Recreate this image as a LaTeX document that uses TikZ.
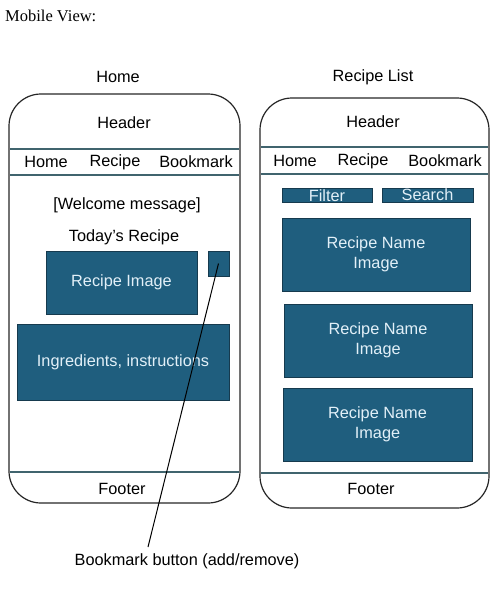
\documentclass[tikz,border=0pt]{standalone}
\usepackage{fontspec}
\setmainfont{Liberation Sans}
\newfontfamily\headfont{Liberation Serif}
\usetikzlibrary{positioning}
\definecolor{tealbox}{RGB}{31,94,126}
\definecolor{tealedge}{RGB}{22,58,78}
\definecolor{boxtext}{RGB}{226,240,248}
\definecolor{rule}{RGB}{64,100,110}

\begin{document}
\begin{tikzpicture}[
    x=1pt, y=-1pt,
    every node/.style={font=\fontsize{16.3}{20.5}\selectfont, inner sep=0pt},
    phone/.style={draw=black!85, line width=1.2pt, rounded corners=32pt},
    divider/.style={draw=rule, line width=1.4pt},
    tile/.style={draw=tealedge, line width=1pt, fill=tealbox, text=boxtext, align=center}
]
\useasboundingbox (0,0) rectangle (500,600);
\node[anchor=west, font=\headfont\fontsize{16.5}{18}\selectfont] (title) at (5,16) {Mobile View:};

% home screen
\node (homettl) at (118,77) {Home};
\draw[phone] (9,94) rectangle (240,503);
\draw[divider] (10,149) -- (239,149);
\draw[divider] (10,175) -- (239,175);
\draw[divider] (10,472) -- (239,472);
\node (hhead) at (124,123) {Header};
\node (hnav1) at (46,162) {Home};
\node (hnav2) at (115,162) {Recipe};
\node (hnav3) at (196,162) {Bookmark};
\node (welcome) at (127,205) {[Welcome message]};
\node (today) at (124,237) {Today’s Recipe};
\node[tile, minimum width=151pt, minimum height=63pt] (img) at (121.5,282.5) {Recipe Image};
\node[tile, minimum width=21pt, minimum height=25pt] (btn) at (218.5,263.5) {};
\node[tile, minimum width=212pt, minimum height=76pt] (ingr) at (123,362) {Ingredients, instructions};
\node (hfoot) at (122,489) {Footer};

% recipe list screen
\node (listttl) at (373,77) {Recipe List};
\draw[phone] (260,98) rectangle (489,508);
\draw[divider] (261,147) -- (488,147);
\draw[divider] (261,174) -- (488,174);
\draw[divider] (261,473) -- (488,473);
\node (lhead) at (373,122) {Header};
\node (lnav1) at (295,161) {Home};
\node (lnav2) at (363,161) {Recipe};
\node (lnav3) at (445,161) {Bookmark};
\node[tile, minimum width=90pt, minimum height=14pt] (filter) at (327,195.5) {Filter};
\node[tile, minimum width=91pt, minimum height=14pt] (search) at (427.5,195) {Search};
\node[tile, minimum width=188pt, minimum height=73pt] (card1) at (376,254.5) {Recipe Name\\Image};
\node[tile, minimum width=188pt, minimum height=73pt] (card2) at (378,340.5) {Recipe Name\\Image};
\node[tile, minimum width=189pt, minimum height=73pt] (card3) at (377.5,424.5) {Recipe Name\\Image};
\node (lfoot) at (371,489) {Footer};

% callout
\node (note) at (187,561) {Bookmark button (add/remove)};
\coordinate (tip) at (148,547);
\draw[line width=1pt] (btn.center) -- (tip);
\end{tikzpicture}
\end{document}
